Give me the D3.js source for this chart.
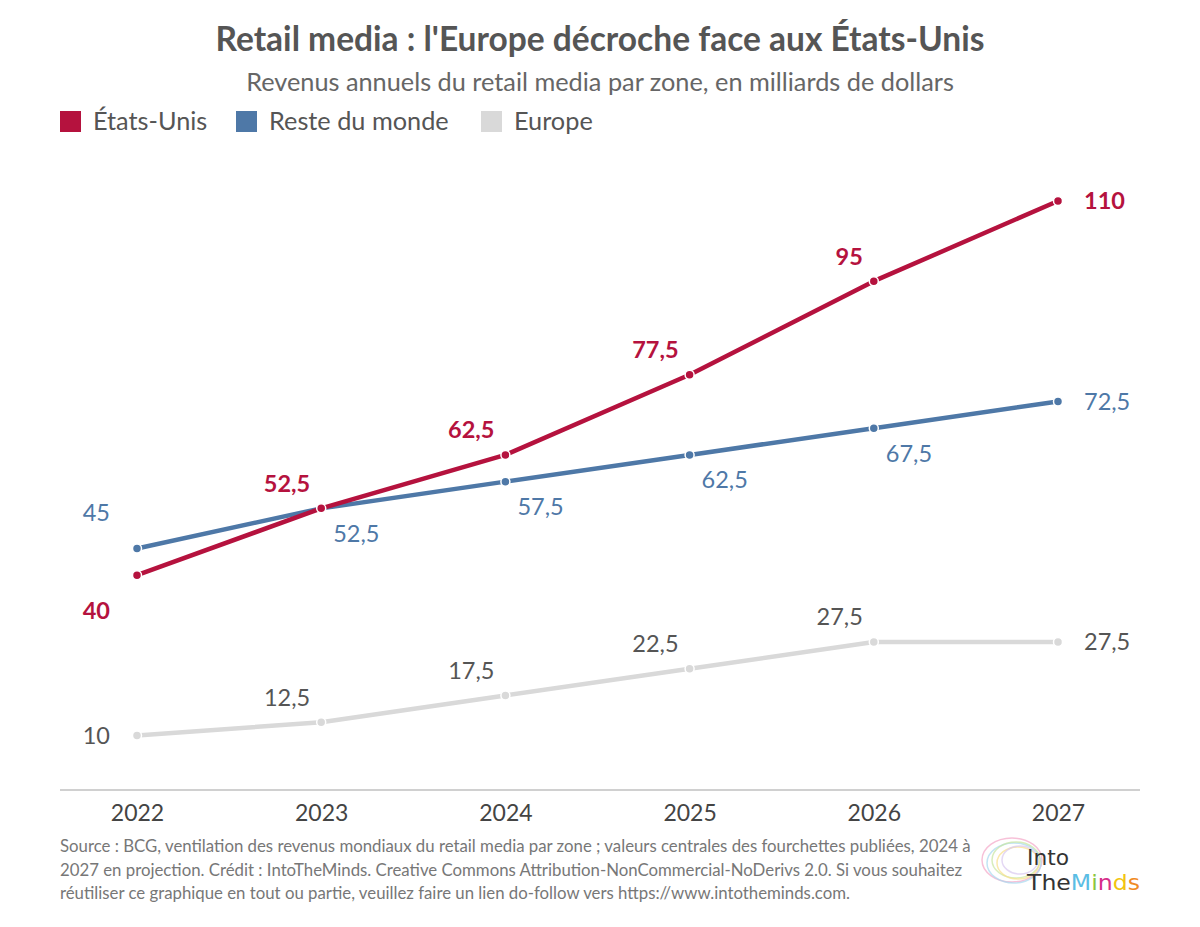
<!DOCTYPE html>
<html>
<head>
<meta charset="utf-8">
<script src="https://cdn.jsdelivr.net/npm/d3@7"></script>
<style>
  html, body { margin: 0; padding: 0; background: #fff; }
  svg { display: block; font-family: Lato, "Open Sans", sans-serif; }
</style>
</head>
<body>
<svg id="chart" width="1200" height="927"></svg>
<script>
const years = ["2022", "2023", "2024", "2025", "2026", "2027"];
const usValues = [40, 52.5, 62.5, 77.5, 95, 110];
const restValues = [45, 52.5, 57.5, 62.5, 67.5, 72.5];
const europeValues = [10, 12.5, 17.5, 22.5, 27.5, 27.5];
const seriesNames = ["États-Unis", "Reste du monde", "Europe"];
const seriesColors = ["#b5123e", "#4e78a7", "#d9d9d9"];
const labelColors = ["#b5123e", "#4e78a7", "#555555"];
const titleText = "Retail media : l'Europe décroche face aux États-Unis";
const subtitleText = "Revenus annuels du retail media par zone, en milliards de dollars";
const footerLines = [
  "Source : BCG, ventilation des revenus mondiaux du retail media par zone ; valeurs centrales des fourchettes publiées, 2024 à",
  "2027 en projection. Crédit : IntoTheMinds. Creative Commons Attribution-NonCommercial-NoDerivs 2.0. Si vous souhaitez",
  "réutiliser ce graphique en tout ou partie, veuillez faire un lien do-follow vers https://www.intotheminds.com."
];

const svg = d3.select("#chart");
const fmt = v => String(v).replace(".", ",");

const x = d3.scalePoint().domain(years).range([137, 1058]);
const y = d3.scaleLinear().domain([0, 110]).range([789, 201]);

// Title & subtitle
svg.append("text").attr("x", 600).attr("y", 51).attr("text-anchor", "middle")
  .attr("font-size", 33.5).attr("font-weight", 700).attr("fill", "#555").text(titleText);
svg.append("text").attr("x", 600).attr("y", 91).attr("text-anchor", "middle")
  .attr("font-size", 25.3).attr("fill", "#666").text(subtitleText);

// Legend
const legendX = [60, 236, 481];
seriesNames.forEach((n, i) => {
  const g = svg.append("g").attr("transform", `translate(${legendX[i]},111)`);
  g.append("rect").attr("width", 21).attr("height", 21).attr("fill", seriesColors[i]);
  g.append("text").attr("x", 33).attr("y", 19).attr("font-size", 25.3).attr("fill", "#555").text(n);
});

// X axis
const xAxis = svg.append("g").attr("transform", "translate(0,790)")
  .call(d3.axisBottom(x).tickSize(0).tickPadding(9));
xAxis.select(".domain").remove();
xAxis.append("line").attr("x1", 60).attr("x2", 1140).attr("y1", 0).attr("y2", 0)
  .attr("stroke", "#d0d0d0").attr("stroke-width", 2);
xAxis.selectAll(".tick text").attr("font-size", 23).attr("fill", "#444")
  .attr("font-family", "Lato, sans-serif").attr("font-weight", 400).attr("dy", "0.95em");

// Series
const series = [usValues, restValues, europeValues];
const line = d3.line().x((d, i) => x(years[i])).y(d => y(d));
const drawOrder = [2, 1, 0];
drawOrder.forEach(si => {
  const vals = series[si];
  svg.append("path").datum(vals).attr("d", line).attr("fill", "none")
    .attr("stroke", seriesColors[si]).attr("stroke-width", 4.5).attr("stroke-linejoin", "round");
  svg.selectAll(null).data(vals).enter().append("circle")
    .attr("cx", (d, i) => x(years[i])).attr("cy", d => y(d)).attr("r", 4.5)
    .attr("fill", seriesColors[si]).attr("stroke", "#fff").attr("stroke-width", 1.5);
});

// Labels
function labelPos(si, i, n) {
  if (i === 0) {
    if (si === 0) return { dx: -27, dy: 35, anchor: "end" };
    if (si === 1) return { dx: -27, dy: -36, anchor: "end" };
    return { dx: -27, dy: 0, anchor: "end" };
  }
  if (i === n - 1) return { dx: 26, dy: 0, anchor: "start" };
  if (si === 1) return { dx: 12, dy: 25, anchor: "start" };
  return { dx: -11, dy: -25, anchor: "end" };
}
series.forEach((vals, si) => {
  vals.forEach((v, i) => {
    const p = labelPos(si, i, vals.length);
    svg.append("text").attr("x", x(years[i]) + p.dx).attr("y", y(v) + p.dy)
      .attr("dy", "0.36em").attr("text-anchor", p.anchor)
      .attr("font-size", 23.5).attr("font-weight", si === 0 ? 700 : 400)
      .attr("fill", labelColors[si]).text(fmt(v));
  });
});

// Footer
footerLines.forEach((t, i) => {
  svg.append("text").attr("x", 60).attr("y", 852 + i * 23.5)
    .attr("font-size", 16.8).attr("fill", "#777").text(t);
});

// Logo
const logo = svg.append("g");
const brainColors = ["#f4a6c8", "#a8d8f0", "#c8e6a0", "#f8e08a", "#d8c8f0"];
brainColors.forEach((c, i) => {
  logo.append("ellipse").attr("cx", 1012 + i * 2).attr("cy", 860 + (i % 2) * 3)
    .attr("rx", 30 - i * 3).attr("ry", 22 - i * 2)
    .attr("fill", "none").attr("stroke", c).attr("stroke-width", 1.5).attr("opacity", 0.7);
});
logo.append("text").attr("x", 1027).attr("y", 865).attr("font-size", 20.5)
  .attr("font-family", "'DejaVu Sans', sans-serif")
  .attr("fill", "#333").attr("textLength", 42).attr("lengthAdjust", "spacingAndGlyphs").text("Into");
const tm = logo.append("text").attr("x", 1027).attr("y", 890).attr("font-size", 20.5)
  .attr("font-family", "'DejaVu Sans', sans-serif")
  .attr("textLength", 113).attr("lengthAdjust", "spacingAndGlyphs");
const logoParts = [["The", "#333"], ["M", "#5bbde4"], ["i", "#8cc63f"], ["n", "#d62f8a"], ["d", "#f2c40f"], ["s", "#f08a24"]];
logoParts.forEach(([t, c]) => tm.append("tspan").attr("fill", c).text(t));
</script>
</body>
</html>
